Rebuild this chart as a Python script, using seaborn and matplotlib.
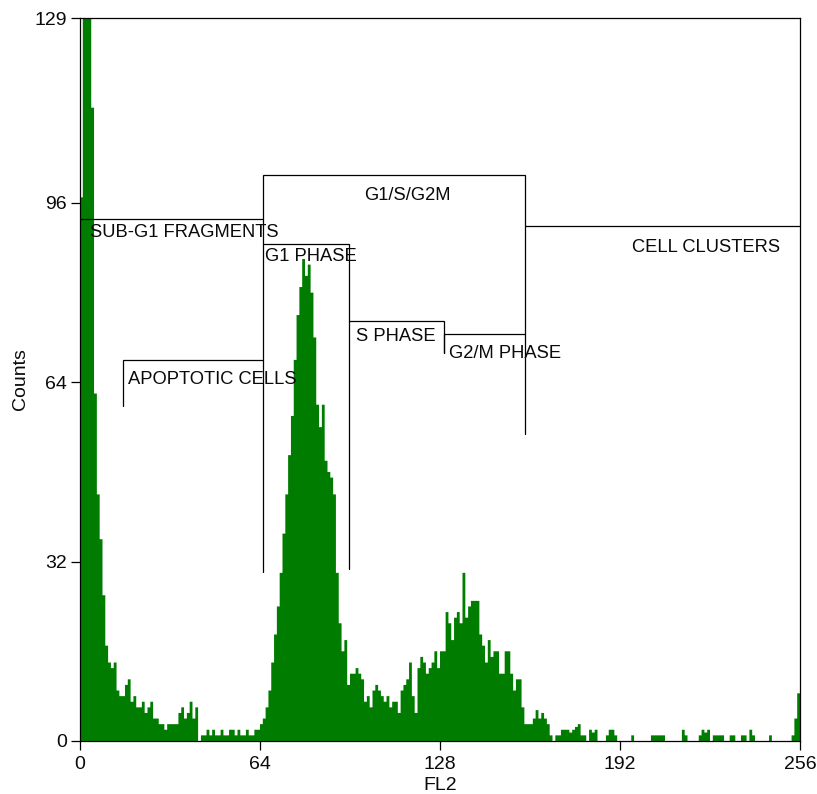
import numpy as np
import pandas as pd
import matplotlib
matplotlib.use("Agg")
import matplotlib.pyplot as plt
import seaborn as sns

# FL2 channel counts (256 channels)
counts_0_49 = [97, 175, 160, 140, 113, 62, 44, 36, 26, 17,
               14, 13, 14, 9, 8, 8, 10, 11, 7, 8,
               6, 6, 7, 5, 6, 7, 4, 4, 3, 3,
               2, 3, 3, 3, 3, 5, 6, 4, 5, 7,
               4, 6, 0, 1, 1, 2, 1, 2, 1, 1]
counts_50_99 = [2, 1, 1, 2, 2, 1, 2, 1, 1, 2,
                1, 1, 2, 2, 3, 4, 6, 9, 14, 19,
                24, 30, 37, 44, 51, 58, 68, 76, 81, 86,
                83, 85, 80, 72, 60, 56, 60, 50, 48, 47,
                44, 30, 21, 16, 18, 10, 12, 12, 13, 12]
counts_100_149 = [11, 7, 8, 6, 9, 10, 9, 8, 7, 8,
                  6, 7, 7, 5, 9, 10, 11, 14, 8, 5,
                  13, 15, 14, 12, 13, 14, 16, 13, 16, 16,
                  23, 21, 18, 22, 23, 21, 30, 22, 24, 25,
                  25, 25, 19, 17, 14, 18, 15, 16, 16, 12]
counts_150_199 = [12, 16, 16, 12, 9, 11, 11, 6, 3, 3,
                  3, 4, 5.5, 4, 5, 4, 3, 1, 0, 1,
                  1, 2, 2, 2, 1.5, 2, 2.5, 3, 1, 1,
                  0, 2, 1.5, 2, 0, 0, 0, 1, 2, 2,
                  1, 0, 0, 0, 0, 0, 1, 0, 0, 0]
counts_200_255 = [0, 0, 0, 1, 1, 1, 1, 1, 0, 0,
                  0, 0, 0, 0, 2, 1, 0, 0, 0, 0,
                  1, 2, 1.5, 2, 0, 1, 1, 1, 1, 0,
                  0, 1, 1, 0, 0, 1, 1, 0, 2, 1,
                  0, 0, 0, 0, 0, 1, 0, 0, 0, 0,
                  0, 0, 0, 1, 4, 8.5]

counts = counts_0_49 + counts_50_99 + counts_100_149 + counts_150_199 + counts_200_255
channels = np.arange(len(counts))

# Analysis markers
gate_names = ["SUB-G1 FRAGMENTS", "G1/S/G2M", "CELL CLUSTERS", "G1 PHASE",
              "S PHASE", "G2/M PHASE", "APOPTOTIC CELLS"]
gate_lo = [0, 65, 158.2, 65, 95.6, 129.5, 15.2]
gate_hi = [65, 158.2, 256, 95.6, 129.5, 158.2, 65]
gate_level = [93.1, 101.0, 91.8, 88.6, 74.9, 72.6, 68.0]
gate_lo_end = [93.1, 30.2, 91.8, 88.6, 74.9, 69.2, 59.8]
gate_hi_end = [93.1, 54.7, 91.8, 30.7, 69.2, 72.6, 68.0]

x_ticks = [0, 64, 128, 192, 256]
y_ticks = [0, 32, 64, 96, 129]

df = pd.DataFrame({"FL2": channels + 0.5, "Counts": counts})

sns.set_style("white")
plt.rcParams["font.family"] = ["Liberation Sans", "DejaVu Sans"]

fig = plt.figure(figsize=(8.17, 7.94), dpi=100)
ax = fig.add_axes([0.0979, 0.0668, 0.8813, 0.9105])

sns.histplot(data=df, x="FL2", weights="Counts", bins=256, binrange=(0, 256),
             element="step", fill=True, color="#007d00", alpha=1.0,
             linewidth=0, ax=ax)

for name, lo, hi, lvl, le, he in zip(gate_names, gate_lo, gate_hi, gate_level,
                                      gate_lo_end, gate_hi_end):
    ax.plot([lo, lo, hi, hi], [le, lvl, lvl, he], color="black", lw=0.9,
            solid_joinstyle="miter", zorder=3)

label_pos = {
    "SUB-G1 FRAGMENTS": (3.6, 90.8, "left"),
    "G1/S/G2M": (116.3, 97.4, "center"),
    "CELL CLUSTERS": (222.6, 88.1, "center"),
    "G1 PHASE": (65.8, 86.4, "left"),
    "S PHASE": (98.1, 72.1, "left"),
    "G2/M PHASE": (131.2, 69.2, "left"),
    "APOPTOTIC CELLS": (17.0, 64.5, "left"),
}
for name in gate_names:
    x, y, ha = label_pos[name]
    ax.text(x, y, name, ha=ha, va="center", fontsize=13.2, color="#0a0a0a", zorder=4)

ax.set_xlim(0, 256)
ax.set_ylim(0, 129)
ax.set_xticks(x_ticks)
ax.set_yticks(y_ticks)
ax.set_xticklabels([str(t) for t in x_ticks])
ax.set_yticklabels([str(t) for t in y_ticks])
ax.tick_params(axis="both", which="major", direction="out", length=6.5, width=0.9,
               labelsize=14, color="black", labelcolor="#0a0a0a",
               bottom=True, left=True, top=False, right=False)
ax.tick_params(axis="x", pad=4.5)
ax.tick_params(axis="y", pad=3)

for side in ["left", "right", "top", "bottom"]:
    ax.spines[side].set_visible(True)
    ax.spines[side].set_color("black")
    ax.spines[side].set_linewidth(0.9)

ax.set_xlabel("FL2", fontsize=14, color="#0a0a0a")
ax.set_ylabel("Counts", fontsize=14, color="#0a0a0a")
ax.xaxis.set_label_coords(0.5, -0.05)
ax.yaxis.set_label_coords(-0.071, 0.5)
ax.grid(False)

fig.savefig("out.png", dpi=100, facecolor="white")
